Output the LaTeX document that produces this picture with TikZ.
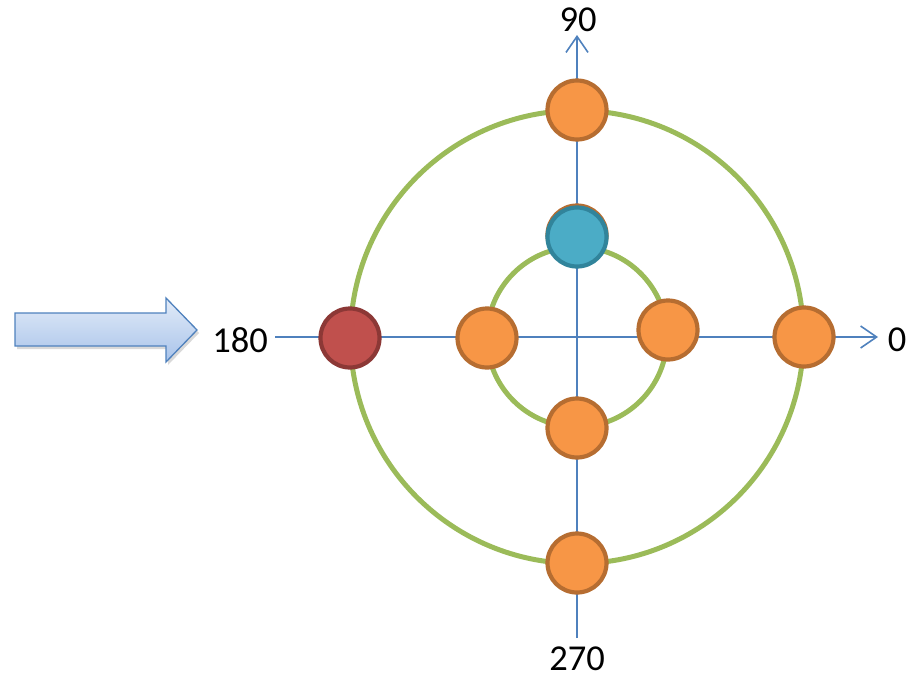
\documentclass[tikz,border=0pt]{standalone}
\usepackage{fontspec}
\setmainfont{Carlito}
\usetikzlibrary{arrows.meta,shadows}
\definecolor{axisblue}{HTML}{4F81BD}
\definecolor{ringgreen}{HTML}{9BBB59}
\definecolor{dotorange}{HTML}{F79646}
\definecolor{dotorangeedge}{HTML}{B66D31}
\definecolor{dotblue}{HTML}{4BACC6}
\definecolor{dotblueedge}{HTML}{31849B}
\definecolor{dotred}{HTML}{C0504D}
\definecolor{dotrededge}{HTML}{8C3836}
\definecolor{arrowtop}{HTML}{E2EBF8}
\definecolor{arrowbot}{HTML}{A8C3EA}
\begin{document}
\begin{tikzpicture}[x=1pt,y=-1pt,
  axis/.style={draw=axisblue,line width=1.6pt},
  axistip/.style={-{Straight Barb[length=16pt,width=22pt,line width=1.6pt]}},
  ring/.style={draw=ringgreen,line width=5pt},
  dot/.style={circle,inner sep=0pt,minimum size=59pt,line width=4.2pt},
  orangedot/.style={dot,fill=dotorange,draw=dotorangeedge},
  bluedot/.style={dot,fill=dotblue,draw=dotblueedge},
  reddot/.style={dot,fill=dotred,draw=dotrededge},
  lbl/.style={font=\fontsize{36.5}{40}\selectfont,inner sep=0pt}]
\useasboundingbox (0,0) rectangle (912,678);
% axis ends
\coordinate (ctr) at (577,337);
\coordinate (vtop) at (577,35);
\coordinate (vbot) at (577,638);
\coordinate (hleft) at (275,337);
\coordinate (hright) at (878,337);
\draw[axis,axistip] (vbot) -- (vtop);
\draw[axis,axistip] (hleft) -- (hright);
% rings
\draw[ring] (ctr) circle[radius=226.5pt];
\draw[ring] (ctr) circle[radius=90pt];
% dots
\node[orangedot] (o90) at (577,110) {};
\node[orangedot] (o270) at (577,563) {};
\node[orangedot] (o0) at (804,337) {};
\node[reddot] (r180) at (350,338) {};
\node[orangedot] (i180) at (487,338) {};
\node[orangedot] (i0) at (668,330) {};
\node[orangedot] (i270) at (577,428) {};
\node[orangedot] (i90b) at (577,235) {};
\node[bluedot] (i90) at (577,237) {};
% labels
\node[lbl] (l90) at (578,20) {90};
\node[lbl] (l0) at (897,340) {0};
\node[lbl] (l180) at (240,340) {180};
\node[lbl] (l270) at (577,659) {270};
% big arrow
\draw[draw=axisblue,line width=1.3pt,top color=arrowtop,bottom color=arrowbot,
  drop shadow={opacity=0.3,shadow xshift=2pt,shadow yshift=-3pt}]
  (15,313) -- (166,313) -- (166,298) -- (197,330) -- (166,362) -- (166,346) -- (15,346) -- cycle;
\end{tikzpicture}
\end{document}
